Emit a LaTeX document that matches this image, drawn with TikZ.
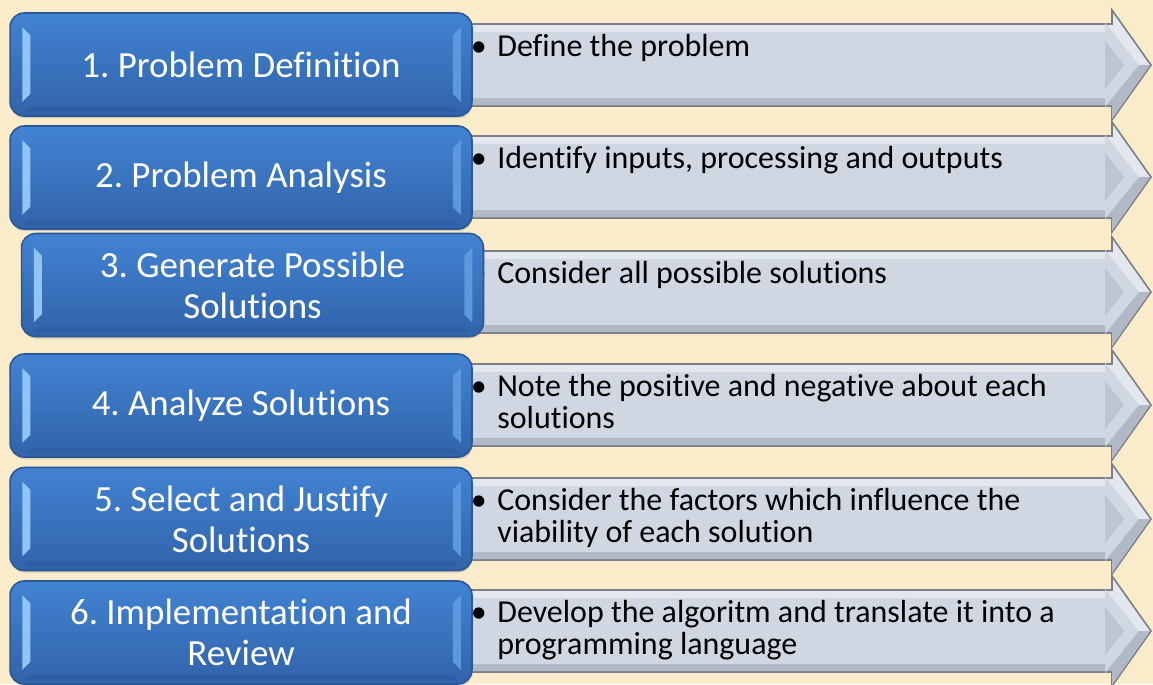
\documentclass[tikz,border=0pt]{standalone}
\usepackage{fontspec}
\setmainfont{Carlito}[Ligatures=NoCommon]
\frenchspacing
\usetikzlibrary{calc,shadows}

\definecolor{paper}{HTML}{FAECCB}
\definecolor{boxtop}{HTML}{4283D3}
\definecolor{boxbot}{HTML}{3163A9}
\definecolor{boxedge}{HTML}{2A5796}
\definecolor{boxlight}{HTML}{8FC4F3}
\definecolor{boxmid}{HTML}{5B98DC}
\definecolor{boxdark}{HTML}{2C5A9B}
\definecolor{barfill}{HTML}{D1D7E2}
\definecolor{barlight}{HTML}{E3E7EE}
\definecolor{bardark}{HTML}{B2B9C6}
\definecolor{baredge}{HTML}{7B7E84}

\begin{document}
\begin{tikzpicture}[
    x=0.02cm, y=-0.02cm,
    stage/.style={draw=boxedge, line width=0.9pt, rounded corners=8pt,
        top color=boxtop, bottom color=boxbot,
        drop shadow={shadow xshift=0.4pt, shadow yshift=-1.2pt, opacity=0.3},
        minimum width=9.24cm, minimum height=2.06cm, inner sep=0pt,
        text=white, align=center, font=\fontsize{21}{23.4}\selectfont},
    bar/.style={draw=baredge, line width=0.9pt, fill=barlight},
    desc/.style={anchor=north west, align=left, inner sep=0pt,
        font=\fontsize{18.2}{16.6}\selectfont}
]

% page
\useasboundingbox (0,0) rectangle (1153,684);
\fill[paper] (0,0) rectangle (1153,684);

% =========================================================
% 1) GREY ARROWS WITH THE NOTES
% =========================================================
\foreach \n/\ay/\txt in {
    1/65/{Define the problem},
    2/177/{Identify inputs, processing and outputs},
    3/292/{Consider all possible solutions},
    4/405/{Note the positive and negative about each\\solutions},
    5/519/{Consider the factors which influence the\\viability of each solution},
    6/631/{Develop the algoritm and translate it into a\\programming language}}
{
  % outer arrow, then the inner face and the lower bevel
  \draw[bar] (455,\ay-41) -- (1112,\ay-41) -- (1112,\ay-55) -- (1151,\ay)
    -- (1112,\ay+55) -- (1112,\ay+41) -- (455,\ay+41) -- cycle;
  \fill[barfill] (455,\ay-33) -- (1105,\ay-33) -- (1105,\ay-42) -- (1139,\ay)
    -- (1105,\ay+42) -- (1105,\ay+33) -- (455,\ay+33) -- cycle;
  \fill[bardark] (455,\ay+33) -- (1105,\ay+33) -- (1105,\ay+42) -- (1139,\ay)
    -- (1150,\ay) -- (1112,\ay+54) -- (1112,\ay+40) -- (455,\ay+40) -- cycle;
  \fill[bardark!60!barfill] (1105,\ay-24) -- (1124,\ay) -- (1105,\ay+24) -- cycle;

  % strut in the first line keeps every baseline at the same depth
  \node[desc] (desc\n) at (497,\ay-31.5) {\llap{\textbullet\hspace{6pt}}\strut\txt};
}

% =========================================================
% 2) BLUE STAGE BOXES
% =========================================================
\foreach \n/\cx/\cy/\lbl in {
    1/241/64.5/{1. Problem Definition},
    2/241/177.5/{2. Problem Analysis},
    3/252.5/285/{3. Generate Possible\\Solutions},
    4/241/405.5/{4. Analyze Solutions},
    5/241/519/{5. Select and Justify\\Solutions},
    6/241/632.5/{6. Implementation and\\Review}}
{
  \node[stage] (stage\n) at (\cx,\cy) {\lbl};

  % bevel facets
  \fill[boxlight] ($(stage\n.north west)+(13,15)$) -- ($(stage\n.north west)+(21,23)$)
    -- ($(stage\n.south west)+(21,-23)$) -- ($(stage\n.south west)+(13,-15)$) -- cycle;
  \fill[boxmid] ($(stage\n.north east)+(-12,15)$) -- ($(stage\n.north east)+(-20,23)$)
    -- ($(stage\n.south east)+(-20,-23)$) -- ($(stage\n.south east)+(-12,-15)$) -- cycle;
  \fill[boxdark, opacity=0.5] ($(stage\n.south west)+(14,-5)$) -- ($(stage\n.south west)+(20,-10)$)
    -- ($(stage\n.south east)+(-20,-10)$) -- ($(stage\n.south east)+(-14,-5)$) -- cycle;
}

\end{tikzpicture}
\end{document}
